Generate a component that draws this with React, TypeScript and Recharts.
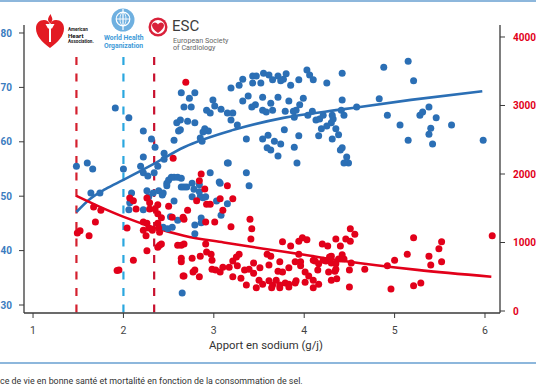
import React from 'react';
import { ComposedChart, Scatter, Line, XAxis, YAxis, ReferenceLine } from 'recharts';

// life expectancy in good health (left axis), blue
const bluePoints: [number, number][] = [
  [1.48, 55.5], [1.6, 56.1], [1.66, 55.0], [1.64, 50.6], [1.74, 50.6], [1.91, 66.2], [2.06, 64.4], [2.0, 55.0], [2.19, 55.5], [2.22, 62.0],
  [2.31, 60.5], [2.35, 59.0], [2.22, 57.2], [2.45, 57.9], [2.38, 55.5], [2.22, 54.3], [2.27, 53.7], [2.34, 54.3], [2.09, 50.6], [2.07, 48.8],
  [2.06, 47.5], [2.22, 47.5], [2.28, 49.9], [2.26, 51.0], [2.45, 56.8], [2.33, 50.6], [2.39, 51.0], [2.44, 50.6], [2.48, 52.4], [2.5, 53.0],
  [2.53, 53.5], [2.56, 53.5], [2.6, 53.5], [2.64, 53.3], [2.64, 51.7], [2.67, 51.7], [2.7, 51.7], [2.76, 52.4], [2.44, 44.3], [2.52, 46.2],
  [2.56, 60.3], [2.63, 62.2], [2.64, 69.0], [2.67, 66.4], [2.59, 63.5], [2.63, 64.0], [2.61, 62.0], [2.73, 68.0], [2.79, 69.0], [2.75, 66.4],
  [2.71, 63.8], [2.79, 63.5], [2.85, 60.7], [2.87, 60.1], [2.9, 62.4], [2.94, 62.0], [2.92, 65.8], [2.96, 65.3], [2.99, 67.7], [3.01, 66.6],
  [3.08, 66.0], [3.15, 65.3], [3.21, 65.3], [3.19, 64.0], [3.26, 63.1], [3.19, 69.9], [3.28, 70.4], [3.32, 71.5], [3.38, 68.4], [3.32, 67.5],
  [3.43, 72.1], [3.47, 72.1], [3.43, 70.8], [3.52, 70.8], [3.55, 72.6], [3.61, 72.3], [3.65, 71.4], [3.71, 72.1], [3.74, 71.2], [3.77, 71.5],
  [3.8, 72.5], [3.85, 70.4], [3.94, 71.4], [4.03, 73.2], [4.06, 72.3], [4.1, 71.4], [4.25, 70.8], [4.42, 72.6], [3.46, 66.8], [3.42, 66.4],
  [3.54, 68.2], [3.63, 67.1], [3.71, 68.2], [3.54, 65.8], [3.58, 65.5], [3.65, 65.8], [3.79, 65.6], [3.83, 67.5], [3.91, 65.8], [3.95, 66.8],
  [3.99, 68.0], [3.88, 65.6], [3.89, 64.5], [4.09, 65.6], [4.04, 64.9], [4.13, 64.0], [4.17, 64.2], [4.21, 64.9], [4.31, 64.9], [4.32, 64.2],
  [4.42, 67.7], [4.41, 65.8], [4.3, 63.5], [4.19, 62.4], [4.25, 62.9], [4.35, 62.4], [3.78, 62.2], [3.36, 60.5], [3.54, 60.5], [3.6, 61.2],
  [3.67, 60.1], [3.74, 59.6], [3.63, 58.5], [3.71, 57.4], [3.89, 59.0], [3.94, 61.1], [4.16, 61.1], [4.38, 61.3], [4.42, 58.9], [3.15, 56.1],
  [3.92, 56.1], [4.88, 73.7], [5.15, 74.8], [5.21, 71.2], [4.44, 64.9], [4.83, 67.9], [4.58, 66.4], [4.92, 64.9], [5.06, 63.1], [5.15, 60.3],
  [5.28, 64.9], [5.31, 65.5], [5.38, 66.4], [5.46, 64.4], [5.4, 62.5], [5.38, 61.4], [5.42, 59.6], [5.63, 63.1], [5.98, 60.3], [4.47, 57.2],
  [4.49, 56.1], [4.44, 56.1], [4.31, 60.5], [4.4, 58.5], [2.88, 61.8], [2.96, 54.3], [3.07, 52.4], [3.16, 56.1], [2.84, 52.1], [2.85, 49.9],
  [2.86, 46.0], [2.79, 44.7], [3.36, 54.3], [3.39, 51.9], [3.59, 58.9], [2.65, 32.2], [2.49, 44.0], [2.54, 44.3], [2.6, 45.6], [2.56, 49.1],
  [2.43, 50.2], [2.48, 51.9], [2.78, 51.3], [2.84, 50.8], [2.76, 49.9], [2.88, 49.7], [2.91, 49.9], [3.03, 49.1], [3.06, 52.6], [3.15, 48.6],
  [3.08, 46.5], [2.86, 45.1], [2.79, 43.1],
];

// mortality (right axis), red
const redPoints: [number, number][] = [
  [2.69, 3340], [2.55, 2230], [2.07, 1650], [2.11, 1610], [2.14, 1490], [2.26, 1650], [2.29, 1490], [2.35, 1490], [2.38, 1420], [2.42, 1360],
  [2.5, 1530], [2.54, 1370], [1.67, 1520], [1.75, 1470], [1.69, 1300], [1.52, 1170], [1.49, 1140], [1.62, 1100], [2.04, 1210], [2.22, 1180],
  [2.26, 1280], [2.28, 1210], [2.25, 1100], [2.38, 1280], [2.39, 1210], [2.4, 1150], [2.42, 980], [2.38, 930], [2.26, 880], [2.11, 740],
  [1.95, 600], [2.6, 960], [2.64, 960], [2.64, 770], [2.64, 720], [2.66, 510], [2.86, 2000], [2.84, 1900], [2.9, 1780], [2.81, 1610],
  [2.92, 1560], [2.96, 1560], [3.07, 1640], [3.15, 1830], [3.1, 1470], [3.21, 1640], [3.19, 1230], [3.01, 1300], [2.91, 1300], [2.67, 1340],
  [2.71, 1470], [2.66, 1370], [3.4, 1340], [3.42, 1200], [3.41, 1050], [2.38, 1550], [2.4, 960], [2.22, 1300], [2.32, 1180], [2.29, 1580],
  [2.91, 980], [2.67, 980], [2.76, 770], [2.85, 800], [2.92, 860], [2.97, 830], [2.98, 740], [2.79, 600], [2.77, 570], [2.84, 500],
  [2.67, 510], [2.98, 610], [3.02, 600], [3.07, 570], [3.1, 640], [3.17, 640], [3.21, 730], [3.25, 790], [3.28, 830], [3.26, 660],
  [3.21, 500], [3.3, 480], [3.36, 380], [3.34, 600], [3.44, 700], [3.44, 550], [3.51, 630], [3.5, 450], [3.47, 340], [3.54, 390],
  [3.59, 830], [3.63, 800], [3.61, 670], [3.61, 440], [3.64, 340], [3.69, 450], [3.73, 340], [3.71, 580], [3.73, 720], [3.76, 1010],
  [3.85, 950], [3.76, 570], [3.83, 630], [3.79, 410], [3.83, 390], [3.83, 350], [3.91, 440], [3.9, 720], [3.94, 830], [3.94, 1020],
  [3.98, 1070], [4.03, 1040], [3.96, 720], [3.96, 660], [4.01, 570], [4.01, 420], [4.05, 510], [4.1, 340], [4.1, 740], [4.16, 690],
  [4.15, 600], [4.16, 390], [4.2, 980], [4.26, 950], [4.21, 740], [4.24, 730], [4.28, 790], [4.3, 700], [4.27, 570], [4.3, 450],
  [4.35, 1050], [4.4, 950], [4.35, 690], [4.38, 760], [4.35, 610], [4.36, 470], [4.42, 820], [4.1, 450], [3.9, 410], [3.73, 380],
  [3.65, 380], [4.12, 730], [4.3, 800], [4.41, 760], [4.34, 580], [4.5, 600], [4.5, 350], [4.52, 700], [4.67, 610], [4.92, 660],
  [5.0, 740], [4.96, 320], [5.14, 830], [5.21, 370], [5.29, 410], [5.38, 800], [5.4, 670], [5.52, 720], [4.51, 1200], [4.56, 1120],
  [4.46, 1050], [4.51, 1020], [4.44, 760], [5.21, 1070], [5.49, 910], [5.52, 1010], [6.08, 1100], [3.39, 610], [1.93, 590],
];

// fitted curves
const blueTrendX = [1.48, 1.63, 1.8, 2.0, 2.31, 2.67, 3.22, 3.77, 4.44, 5.18, 5.97];
const blueTrendY = [47.1, 49.5, 51.3, 53.0, 55.7, 59.0, 62.2, 64.4, 66.0, 67.7, 69.3];
const redTrendX = [1.48, 1.74, 2.01, 2.31, 2.67, 3.11, 3.55, 4.0, 4.44, 5.25, 6.07];
const redTrendY = [1680, 1520, 1370, 1230, 1100, 1000, 910, 820, 730, 600, 500];

// recommended maxima (AHA, WHO, ESC)
const guideX = [1.48, 2.0, 2.34];
const guideTop = 75.6;

const xTicks = [1, 2, 3, 4, 5, 6];
const leftTicks = [30, 40, 50, 60, 70, 80];
const rightTicks = [0, 1000, 2000, 3000, 4000];

const BLUE = '#2b6fb5';
const RED = '#e2001a';
const AXIS = '#3a3a3a';
const guideColors = ['#d4202e', '#2aa7df', '#c8102e'];
const FONT = 'Roboto, sans-serif';

const toXY = (pts: [number, number][]) => pts.map(([x, y]) => ({ x, y }));
const zipXY = (xs: number[], ys: number[]) => xs.map((x, i) => ({ x, y: ys[i] }));

const dot = (color: string) => (p: any) => <circle cx={p.cx} cy={p.cy} r={3.5} fill={color} />;

const Logos = () => (
  <svg width={536} height={60} style={{ position: 'absolute', left: 0, top: 0 }}>
    {/* AHA */}
    <path d="M50,48 C42,42 36,36 36,28.5 C36,23 39.5,20 44,20 C47,20 49,22 50,24.5 C51,22 53,20 56,20 C60.5,20 64,23 64,28.5 C64,36 58,42 50,48 Z" fill="#e31b23" />
    <path d="M45.5,24 L54.5,24 L52,28.5 L51,28.5 L51,42 L49,42 L49,28.5 L48,28.5 Z" fill="#fff" />
    <path d="M50,23 C46.5,20 48.5,17 50.5,14 C51.5,17 54,19.5 50.8,23 Z" fill="#e31b23" />
    <text x={68} y={31} fontSize={4.6} fontWeight={700} fill="#222" fontFamily={FONT}>American</text>
    <text x={68} y={37.5} fontSize={6.2} fontWeight={700} fill="#111" fontFamily={FONT}>Heart</text>
    <text x={68} y={43} fontSize={4.6} fontWeight={700} fill="#222" fontFamily={FONT}>Association.</text>
    {/* WHO */}
    <circle cx={123} cy={20} r={11.5} fill="#6fb0e0" />
    <circle cx={123} cy={19} r={6.8} fill="none" stroke="#fff" strokeWidth={1.2} />
    <ellipse cx={123} cy={19} rx={3} ry={6.8} fill="none" stroke="#fff" strokeWidth={0.8} />
    <line x1={123} y1={9} x2={123} y2={30} stroke="#fff" strokeWidth={1.2} />
    <line x1={116.2} y1={19} x2={129.8} y2={19} stroke="#fff" strokeWidth={0.9} />
    <text x={104} y={40} fontSize={6.8} fontWeight={700} fill="#3d9ad8" fontFamily={FONT}>World Health</text>
    <text x={104} y={47.5} fontSize={6.8} fontWeight={700} fill="#3d9ad8" fontFamily={FONT}>Organization</text>
    {/* ESC */}
    <circle cx={158} cy={27} r={9.5} fill="#d9213a" />
    <circle cx={158} cy={27} r={7} fill="#fff" />
    <path d="M158,33 C154,30 152,28 152,25.5 C152,23.5 153.5,22.5 155,22.5 C156.5,22.5 157.5,23.5 158,24.5 C158.5,23.5 159.5,22.5 161,22.5 C162.5,22.5 164,23.5 164,25.5 C164,28 162,30 158,33 Z" fill="#d9213a" />
    <text x={172} y={31} fontSize={15} fill="#3d3d3d" fontFamily={FONT}>ESC</text>
    <text x={173} y={42.5} fontSize={7.2} fill="#666" fontFamily={FONT}>European Society</text>
    <text x={173} y={50} fontSize={7.2} fill="#666" fontFamily={FONT}>of Cardiology</text>
  </svg>
);

export default function App() {
  return (
    <div style={{ position: 'absolute', left: 0, top: 0, width: 536, height: 386, background: '#fff', overflow: 'hidden', fontFamily: FONT }}>
      <div style={{ position: 'absolute', left: 0, top: 0, width: 536, height: 2, background: '#8db7dc' }} />
      <div style={{ position: 'absolute', left: 0, top: 0 }}>
        <ComposedChart width={536} height={386} margin={{ top: 25, right: 0, bottom: 43, left: 0 }}>
          <XAxis
            type="number"
            dataKey="x"
            domain={[0.9, 6.166]}
            ticks={xTicks}
            allowDataOverflow
            height={30}
            tickSize={5}
            tickMargin={9}
            axisLine={{ stroke: AXIS, strokeWidth: 1.3 }}
            tickLine={{ stroke: AXIS }}
            tick={{ fill: '#444', fontSize: 10.5, fontFamily: FONT }}
          />
          <YAxis
            yAxisId="l"
            orientation="left"
            type="number"
            dataKey="y"
            domain={[28.53, 81.47]}
            ticks={leftTicks}
            allowDataOverflow
            width={24}
            tickSize={5}
            tickMargin={7}
            axisLine={{ stroke: AXIS, strokeWidth: 1.3 }}
            tickLine={{ stroke: AXIS }}
            tick={{ fill: '#3b7cc0', fontSize: 10, fontWeight: 700, fontFamily: FONT }}
          />
          <YAxis
            yAxisId="r"
            orientation="right"
            type="number"
            dataKey="y"
            domain={[-29, 4175]}
            ticks={rightTicks}
            allowDataOverflow
            width={36}
            tickSize={5}
            tickMargin={8}
            axisLine={{ stroke: AXIS, strokeWidth: 1.3 }}
            tickLine={{ stroke: AXIS }}
            tick={{ fill: RED, fontSize: 10, fontWeight: 700, fontFamily: FONT }}
          />
          {guideX.map((gx, i) => (
            <ReferenceLine
              key={i}
              yAxisId="l"
              segment={[{ x: gx, y: guideTop }, { x: gx, y: 28.53 }]}
              stroke={guideColors[i]}
              strokeWidth={2.2}
              strokeDasharray="8 8.5"
              ifOverflow="visible"
            />
          ))}
          <Scatter yAxisId="l" data={toXY(bluePoints)} shape={dot(BLUE)} isAnimationActive={false} />
          <Scatter yAxisId="r" data={toXY(redPoints)} shape={dot(RED)} isAnimationActive={false} />
          <Line yAxisId="l" data={zipXY(blueTrendX, blueTrendY)} dataKey="y" type="monotone" stroke={BLUE} strokeWidth={2.6} dot={false} isAnimationActive={false} />
          <Line yAxisId="r" data={zipXY(redTrendX, redTrendY)} dataKey="y" type="monotone" stroke={RED} strokeWidth={2.6} dot={false} isAnimationActive={false} />
        </ComposedChart>
      </div>
      <Logos />
      <div style={{ position: 'absolute', left: 209, top: 339, fontSize: 11.3, color: '#333', whiteSpace: 'nowrap' }}>
        Apport en sodium (g/j)
      </div>
      <div style={{ position: 'absolute', left: 0, top: 362, width: 536, height: 1.5, background: '#8db7dc' }} />
      <div style={{ position: 'absolute', left: 0, top: 376, fontSize: 8.9, color: '#333', whiteSpace: 'nowrap' }}>
        ce de vie en bonne santé et mortalité en fonction de la consommation de sel.
      </div>
    </div>
  );
}
